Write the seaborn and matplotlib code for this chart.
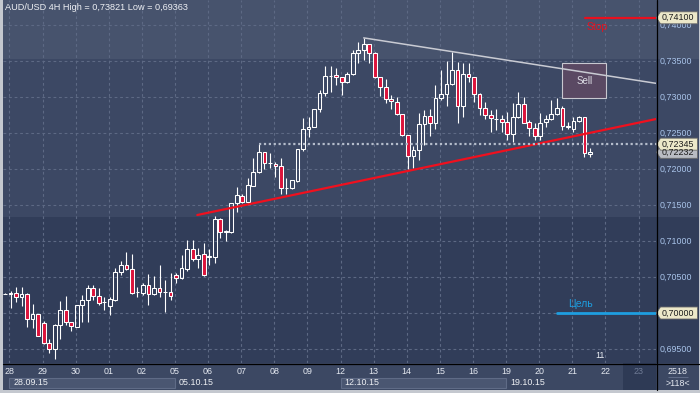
import matplotlib
matplotlib.use("Agg")
import numpy as np
import pandas as pd
import matplotlib.pyplot as plt
from matplotlib.patches import Polygon, Rectangle
import seaborn as sns

# --- AUD/USD 4H candles, 25.09.15 (last bar) .. 21.10.15 ---
opens = [
    0.70264, 0.70264, 0.70274, 0.70218, 0.70260, 0.69921, 0.69982, 0.69857, 0.69579, 0.69496,
    0.69829, 0.70038, 0.69875, 0.69810, 0.70107, 0.70176, 0.70343, 0.70236, 0.70149, 0.70097,
    0.70181, 0.70574, 0.70667, 0.70607, 0.70288, 0.70274, 0.70389, 0.70264, 0.70343, 0.70288,
    0.70288, 0.70528, 0.70482, 0.70607, 0.70885, 0.70746, 0.70819, 0.70782, 0.70774, 0.71306,
    0.71129, 0.71129, 0.71524, 0.71621, 0.71538, 0.71768, 0.71954, 0.72232, 0.72079, 0.72065,
    0.72042, 0.71732, 0.71732, 0.71838, 0.72274, 0.72551, 0.72588, 0.72829, 0.73051, 0.73292,
    0.73301, 0.73274, 0.73213, 0.73315, 0.73607, 0.73653, 0.73736, 0.73607, 0.73274, 0.73143,
    0.72968, 0.72926, 0.72764, 0.72468, 0.72181, 0.72260, 0.72621, 0.72732, 0.72635, 0.72982,
    0.73038, 0.73181, 0.73375, 0.72879, 0.73319, 0.73274, 0.73038, 0.72843, 0.72750, 0.72694,
    0.72694, 0.72649, 0.72486, 0.72726, 0.72903, 0.72657, 0.72565, 0.72458, 0.72649, 0.72690,
    0.72760, 0.72843, 0.72588, 0.72551, 0.72667, 0.72718, 0.72204]
highs = [
    0.70271, 0.70310, 0.70357, 0.70357, 0.70278, 0.70125, 0.69986, 0.69889, 0.69639, 0.69847,
    0.70163, 0.70236, 0.69875, 0.70107, 0.70250, 0.70389, 0.70389, 0.70343, 0.70226, 0.70226,
    0.70621, 0.70726, 0.70843, 0.70819, 0.70357, 0.70413, 0.70542, 0.70514, 0.70667, 0.70458,
    0.70551, 0.70551, 0.70806, 0.71014, 0.71014, 0.70899, 0.70976, 0.70885, 0.71347, 0.71319,
    0.71153, 0.71532, 0.71746, 0.71653, 0.71871, 0.72157, 0.72345, 0.72232, 0.72218, 0.72101,
    0.72149, 0.71871, 0.71847, 0.72274, 0.72708, 0.72718, 0.72829, 0.73097, 0.73431, 0.73431,
    0.73399, 0.73282, 0.73351, 0.73653, 0.73760, 0.73821, 0.73736, 0.73629, 0.73282, 0.73250,
    0.73028, 0.73004, 0.72764, 0.72468, 0.72319, 0.72774, 0.72819, 0.72829, 0.73167, 0.73375,
    0.73504, 0.73621, 0.73490, 0.73468, 0.73468, 0.73282, 0.73051, 0.72935, 0.72819, 0.72829,
    0.72750, 0.72796, 0.72913, 0.73074, 0.73004, 0.72681, 0.72635, 0.72774, 0.72750, 0.72958,
    0.72982, 0.72875, 0.72657, 0.72722, 0.72743, 0.72726, 0.72288]
lows = [
    0.70257, 0.70065, 0.70153, 0.70101, 0.69810, 0.69788, 0.69681, 0.69576, 0.69440, 0.69363,
    0.69639, 0.69829, 0.69754, 0.69801, 0.69875, 0.69879, 0.70181, 0.70111, 0.70042, 0.69972,
    0.70171, 0.70528, 0.70597, 0.70264, 0.70218, 0.70250, 0.70111, 0.70250, 0.70218, 0.70018,
    0.70181, 0.70421, 0.70468, 0.70588, 0.70726, 0.70621, 0.70514, 0.70667, 0.70699, 0.71038,
    0.71004, 0.71115, 0.71407, 0.71532, 0.71532, 0.71768, 0.71940, 0.72000, 0.72010, 0.71893,
    0.71653, 0.71653, 0.71729, 0.71824, 0.72254, 0.72449, 0.72588, 0.72796, 0.73014, 0.73074,
    0.73167, 0.73028, 0.73190, 0.73306, 0.73468, 0.73514, 0.73468, 0.73260, 0.73018, 0.72921,
    0.72833, 0.72750, 0.72458, 0.71996, 0.72010, 0.72125, 0.72333, 0.72458, 0.72551, 0.72958,
    0.72875, 0.73167, 0.72643, 0.72726, 0.73213, 0.72935, 0.72750, 0.72690, 0.72518, 0.72542,
    0.72518, 0.72403, 0.72379, 0.72704, 0.72635, 0.72458, 0.72403, 0.72403, 0.72588, 0.72681,
    0.72750, 0.72542, 0.72551, 0.72518, 0.72653, 0.72171, 0.72171]
closes = [
    0.70261, 0.70274, 0.70218, 0.70260, 0.69921, 0.69982, 0.69685, 0.69579, 0.69496, 0.69829,
    0.70038, 0.69875, 0.69819, 0.70107, 0.70176, 0.70343, 0.70236, 0.70135, 0.70153, 0.70190,
    0.70574, 0.70667, 0.70607, 0.70282, 0.70292, 0.70389, 0.70264, 0.70343, 0.70288, 0.70292,
    0.70236, 0.70482, 0.70621, 0.70885, 0.70746, 0.70810, 0.70528, 0.70788, 0.71306, 0.71121,
    0.71132, 0.71524, 0.71635, 0.71538, 0.71778, 0.71954, 0.72232, 0.72079, 0.72083, 0.72042,
    0.71732, 0.71736, 0.71847, 0.72274, 0.72551, 0.72588, 0.72829, 0.73051, 0.73292, 0.73296,
    0.73274, 0.73213, 0.73315, 0.73607, 0.73653, 0.73736, 0.73607, 0.73274, 0.73143, 0.72968,
    0.72944, 0.72764, 0.72468, 0.72181, 0.72260, 0.72621, 0.72732, 0.72635, 0.72982, 0.73038,
    0.73181, 0.73375, 0.72879, 0.73319, 0.73274, 0.73038, 0.72843, 0.72750, 0.72704, 0.72699,
    0.72649, 0.72486, 0.72726, 0.72903, 0.72643, 0.72565, 0.72458, 0.72643, 0.72694, 0.72760,
    0.72843, 0.72601, 0.72593, 0.72667, 0.72718, 0.72218, 0.72232]

day_labels = ["28", "29", "30", "01", "02", "05", "06", "07", "08", "09",
              "12", "13", "14", "15", "16", "19", "20", "21", "22", "23"]
week_labels = ["28.09.15", "05.10.15", "12.10.15", "19.10.15"]
price_ticks = [0.695, 0.705, 0.710, 0.715, 0.720, 0.725, 0.730, 0.735, 0.740]

# drawn objects (bar index, price)
support_x, support_y = [34.84, 117.96], [0.71361, 0.72694]
resist_x, resist_y = [65.0, 117.96], [0.73821, 0.73190]
stop_price, target_price = 0.74100, 0.70000
last_high, last_price = 0.72345, 0.72232
high_val, low_val = 0.73821, 0.69363
corner_top, corner_bottom = "2518", ">118<"

df = pd.DataFrame({"o": opens, "h": highs, "l": lows, "c": closes})
df["i"] = np.arange(len(df))

sns.set_style("dark")
plt.rcParams['font.family'] = ['Liberation Sans', 'DejaVu Sans']

W, H = 700, 393
BG_TOP, BG_MID, BG_LOW = "#47536d", "#3c4864", "#313d59"
RED = "#dc143c"
XL = (-0.362, 117.96)
YL = (0.693056, 0.743472)

fig = plt.figure(figsize=(7, 3.93), dpi=100, facecolor="#c4c8cf")


def px_rect(x0, y0, x1, y1):
    return [x0 / W, 1 - y1 / H, (x1 - x0) / W, (y1 - y0) / H]


def paint_bands(a):
    a.axhspan(0.73528, YL[1], color=BG_TOP, lw=0, zorder=0)
    a.axhspan(0.71333, 0.73528, color=BG_MID, lw=0, zorder=0)
    a.axhspan(YL[0], 0.71333, color=BG_LOW, lw=0, zorder=0)


# ---------------- main price panel ----------------
ax = fig.add_axes(px_rect(3, 0, 656, 363))
ax.set_xlim(*XL)
ax.set_ylim(*YL)
ax.set_axis_off()
paint_bands(ax)

day_pos = [6 * k + 0.8 for k in range(len(day_labels))]
for p in price_ticks + [target_price]:
    ax.axhline(p, color="#5d6984", lw=0.8, ls=(0, (2.5, 2.5)), zorder=1)
for d in day_pos:
    ax.axvline(d, color="#5d6984", lw=0.8, ls=(0, (2.5, 2.5)), zorder=1)

up = df["c"] >= df["o"]
top = df[["o", "c"]].max(axis=1)
bot = df[["o", "c"]].min(axis=1)
ax.vlines(df["i"], top, df["h"], color="white", lw=0.8, zorder=3)
ax.vlines(df["i"], df["l"], bot, color="white", lw=0.8, zorder=3)
ax.bar(df["i"], (top - bot).clip(lower=0.00002), bottom=bot, width=0.68,
       color=np.where(up, "none", RED), edgecolor="white", linewidth=0.75, zorder=4)

# Sell box under resistance line
ax.add_patch(Rectangle((100.98, 0.72982), 8.0, 0.00494, facecolor="#5a4963",
                       edgecolor="#c8c8d0", lw=0.8, zorder=5))
ax.text(104.98, 0.73229, "Sell", color="#dcdce4", fontsize=7, ha="center", va="center", zorder=7)

sns.lineplot(x=resist_x, y=resist_y, ax=ax, color="#c9cbd3", lw=1.1, zorder=6)
sns.lineplot(x=support_x, y=support_y, ax=ax, color="#f0101e", lw=1.6, zorder=6)
sns.lineplot(x=[105.1, XL[1]], y=[stop_price] * 2, ax=ax, color="#e8101e", lw=1.6, zorder=6)
sns.lineplot(x=[99.96, XL[1]], y=[target_price] * 2, ax=ax, color="#1e9ee0", lw=2.0, zorder=6)
ax.hlines(last_high, 46, XL[1], color="#b4bccb", lw=1.6, ls=(0, (1, 1.2)), zorder=6)

ax.text(105.45, 0.73972, "Stop", color="#e8101e", fontsize=7.5, ha="left", va="center")
ax.text(102.0, 0.70125, "Цель", color="#1e9ee0", fontsize=7.5, ha="left", va="center")

fig.text(5 / W, 1 - 8 / H,
         f"AUD/USD 4H High = {high_val:.5f} Low = {low_val:.5f}".replace(".", ","),
         color="#eef0f4", fontsize=6.6, va="center", ha="left")
fig.text(600 / W, 1 - 356 / H, "11", color="#e8ecf2", fontsize=6.4, ha="center", va="center")

# ---------------- right price scale ----------------
rax = fig.add_axes(px_rect(656, 0, 699, 363))
rax.set_xlim(0, 43)
rax.set_ylim(*YL)
rax.set_axis_off()
paint_bands(rax)
TAG_H = 6.0 / 7200
for p in price_ticks:
    t = rax.text(3.5, p, f"{p:.5f}".replace(".", ","), color="#a9c4ea", fontsize=6.4,
                 ha="left", va="center", zorder=2)
    if abs(p - stop_price) < 0.0015:
        # partly hidden under the stop tag: keep only the visible lower part
        clip = Rectangle((0, YL[0]), 43, stop_price - TAG_H - YL[0], transform=rax.transData)
        t.set_clip_path(clip)


def tag(p, face):
    rax.add_patch(Polygon([(0.5, p), (4.5, p + TAG_H), (41.5, p + TAG_H),
                           (41.5, p - TAG_H), (4.5, p - TAG_H)],
                          closed=True, facecolor=face, edgecolor="#6a6a6a", lw=0.6, zorder=3))
    rax.text(5.5, p, f"{p:.5f}".replace(".", ","), color="#1c1c1c", fontsize=6.4,
             ha="left", va="center", zorder=4)


tag(last_price, "#b9bcc3")
tag(last_high, "#ece8c9")
tag(stop_price, "#ece8c9")
tag(target_price, "#ece8c9")

# ---------------- time scale ----------------
bax = fig.add_axes(px_rect(3, 363, 656, 390))
bax.set_xlim(*XL)
bax.set_ylim(27, 0)
bax.set_axis_off()
bax.axvspan(*XL, color="#3c4863", lw=0, zorder=0)
bax.axvspan(112.0, XL[1], color="#2e3a55", lw=0, zorder=1)
for k, lab in enumerate(week_labels):
    x0 = day_pos[5 * k]
    if k % 2 == 0:
        bax.add_patch(Rectangle((x0, 14.5), day_pos[5 * k + 5] - x0, 10.5, facecolor="#4a5671",
                                edgecolor="#5f6b86", lw=0.8, zorder=1))
    bax.text(x0 + 0.75, 19.7, lab, color="#eef0f4", fontsize=6.4, ha="left", va="center", zorder=3)
for d, lab in zip(day_pos, day_labels):
    bax.text(d, 8, lab, color="#6f7b95" if lab == "23" else "#e4e8f0", fontsize=6.4,
             ha="center", va="center", zorder=3)

cax = fig.add_axes(px_rect(656, 363, 699, 390))
cax.set_xlim(0, 43)
cax.set_ylim(27, 0)
cax.set_axis_off()
cax.axvspan(0, 43, color="#3c4863", lw=0)
cax.text(22, 8, corner_top, color="#e4e8f0", fontsize=6.4, ha="center", va="center")
cax.hlines(13.5, 12, 32, color="#5f6b86", lw=0.8)
cax.text(22, 20.5, corner_bottom, color="#e4e8f0", fontsize=6.4, ha="center", va="center")

# separators
fig.add_artist(plt.Line2D([656.5 / W] * 2, [1 - 390 / H, 1], color="black", lw=0.9))
fig.add_artist(plt.Line2D([3 / W, 699 / W], [1 - 363.5 / H] * 2, color="black", lw=0.9))

fig.savefig("out.png", dpi=100, facecolor=fig.get_facecolor())
